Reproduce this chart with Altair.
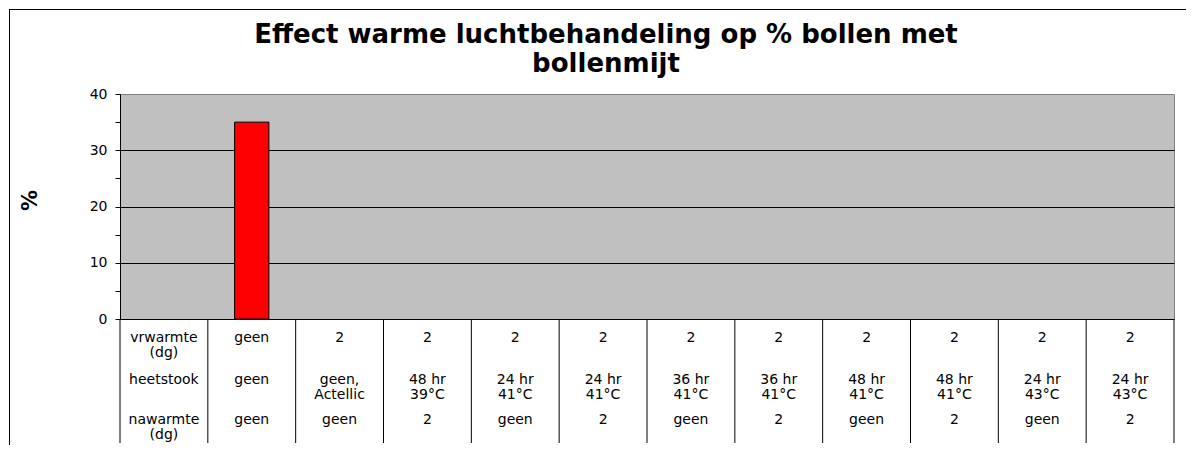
import altair as alt
import pandas as pd

# ---- data ----
columns = list(range(12))
vrwarmte = ["vrwarmte\n(dg)", "geen", "2", "2", "2", "2", "2", "2", "2", "2", "2", "2"]
heetstook = ["heetstook", "geen", "geen,\nActellic", "48 hr\n39°C", "24 hr\n41°C", "24 hr\n41°C",
             "36 hr\n41°C", "36 hr\n41°C", "48 hr\n41°C", "48 hr\n41°C", "24 hr\n43°C", "24 hr\n43°C"]
nawarmte = ["nawarmte\n(dg)", "geen", "geen", "2", "geen", "2", "geen", "2", "geen", "2", "geen", "2"]
percent = [None, 35, 0, 0, 0, 0, 0, 0, 0, 0, 0, 0]
title_lines = ["Effect warme luchtbehandeling op % bollen met", "bollenmijt"]
y_ticks = [0, 5, 10, 15, 20, 25, 30, 35, 40]

df = pd.DataFrame({"col": columns, "vrwarmte": vrwarmte, "heetstook": heetstook,
                   "nawarmte": nawarmte, "pct": percent})
one = pd.DataFrame({"k": [0]})

W, H = 1054, 225
LEFT_PAD, TOP_PAD = 112, 86
RIGHT_PAD = 16
BOTTOM_PAD = 128
FONT = "DejaVu Sans"

x_axis = alt.Axis(labels=False, ticks=False, title=None, domainColor="black", domainWidth=1, grid=False)
x_scale = alt.Scale(paddingInner=0, paddingOuter=0)


def X(**kw):
    return alt.X("col:O", scale=x_scale, axis=x_axis, **kw)


bars = alt.Chart(df).transform_filter("datum.pct > 0").mark_bar(
    color="#FF0000", stroke="black", strokeWidth=1, width=alt.RelativeBandSize(0.39)
).encode(
    x=X(),
    y=alt.Y("pct:Q", scale=alt.Scale(domain=[0, 40], nice=False),
            axis=alt.Axis(values=y_ticks,
                          labelExpr="datum.value % 10 === 0 ? datum.label : ''",
                          tickSize=5, tickColor="black", domainColor="black",
                          labelFont=FONT, labelFontSize=14, labelColor="black", labelPadding=8,
                          grid=True, gridColor="black",
                          gridOpacity={"condition": {"test": "datum.value % 10 === 0 && datum.value > 0 && datum.value < 40",
                                                     "value": 1}, "value": 0},
                          title="%", titleX=-90, titleY=106, titleAngle=270, titleAlign="center",
                          titleBaseline="middle", titleFont=FONT, titleFontSize=21,
                          titleFontWeight="bold", titleColor="black")),
)


def row_text(field, offset):
    return alt.Chart(df).mark_text(
        font=FONT, fontSize=14, lineBreak="\n", lineHeight=15, baseline="alphabetic",
        align="center", color="black"
    ).encode(x=X(), y=alt.value(H + offset), text=f"{field}:N")


row1 = row_text("vrwarmte", 22.7)
row2 = row_text("heetstook", 65)
row3 = row_text("nawarmte", 105)

sep_left = alt.Chart(df).mark_rule(color="black", strokeWidth=1).encode(
    x=X(bandPosition=0), y=alt.value(H), y2=alt.value(H + 124))
sep_right = alt.Chart(df.tail(1)).mark_rule(color="black", strokeWidth=1).encode(
    x=X(bandPosition=1), y=alt.value(H), y2=alt.value(H + 124))

title = alt.Chart(one).mark_text(
    text=title_lines, font=FONT, fontSize=26, fontWeight="bold", lineHeight=29,
    baseline="alphabetic", align="center", color="black"
).encode(x=alt.value(486), y=alt.value(-51.3))

# outer chart border (left and top edges; right/bottom lie outside the picture)
frame_left = alt.Chart(one).mark_rect(color="black").encode(
    x=alt.value(-LEFT_PAD + 1), x2=alt.value(-LEFT_PAD + 2),
    y=alt.value(-TOP_PAD + 1), y2=alt.value(H + BOTTOM_PAD - 2))
frame_top = alt.Chart(one).mark_rect(color="black").encode(
    x=alt.value(-LEFT_PAD + 1), x2=alt.value(W + RIGHT_PAD - 4),
    y=alt.value(-TOP_PAD + 1), y2=alt.value(-TOP_PAD + 2))

chart = alt.layer(bars, sep_left, sep_right, row1, row2, row3, title, frame_left, frame_top).properties(
    width=W, height=H,
    autosize=alt.AutoSizeParams(type="none"),
    padding={"left": LEFT_PAD, "top": TOP_PAD, "right": RIGHT_PAD, "bottom": BOTTOM_PAD},
    background="white",
).configure_view(fill="#C0C0C0", stroke="#808080", strokeWidth=1)

chart.save("out.html", embed_options={"renderer": "svg", "actions": False})
